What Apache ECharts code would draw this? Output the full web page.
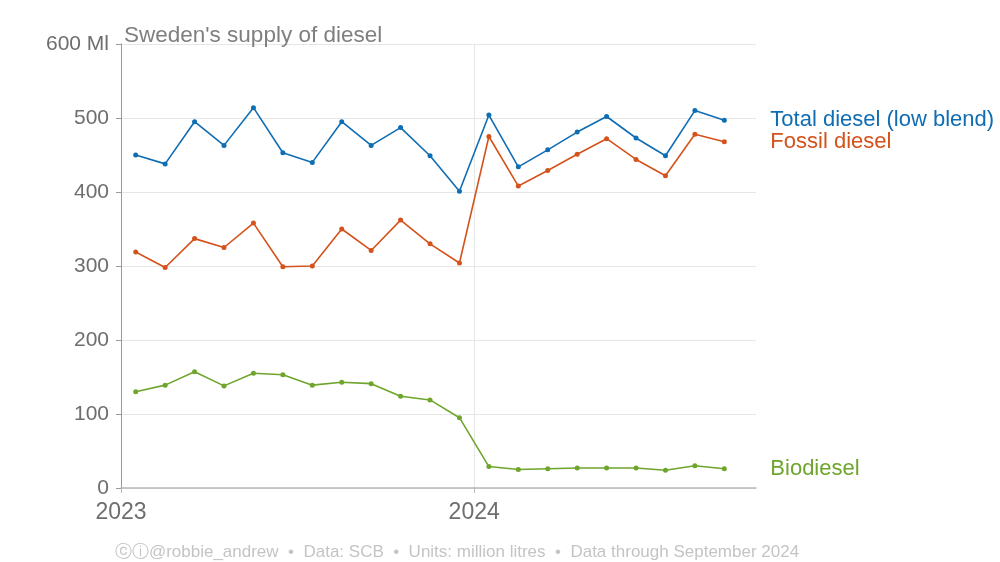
<!DOCTYPE html>
<html>
<head>
<meta charset="utf-8">
<style>
  html, body { margin: 0; padding: 0; background: #fff; }
  #chart { width: 1000px; height: 562px; }
</style>
<script src="https://cdn.jsdelivr.net/npm/echarts@6/dist/echarts.min.js"></script>
</head>
<body>
<div id="chart"></div>
<script>
// Months (first of each month), values in million litres
const months = [
  '2023-01','2023-02','2023-03','2023-04','2023-05','2023-06','2023-07','2023-08','2023-09','2023-10','2023-11','2023-12',
  '2024-01','2024-02','2024-03','2024-04','2024-05','2024-06','2024-07','2024-08','2024-09'
];
const totalDiesel = [450, 438, 495, 463, 514, 453, 440, 495, 463, 487, 449, 401,
                     504, 434, 457, 481, 502, 473, 449, 510, 497];
const fossilDiesel = [319, 298, 337, 325, 358, 299, 300, 350, 321, 362, 330, 304,
                      475, 408, 429, 451, 472, 444, 422, 478, 468];
const bioDiesel = [130, 139, 157, 138, 155, 153, 139, 143, 141, 124, 119, 95,
                   29, 25, 26, 27, 27, 27, 24, 30, 26];
const yTicks = [0, 100, 200, 300, 400, 500, 600];
const xYears = [2023, 2024];

const seriesNames = ['Total diesel (low blend)', 'Fossil diesel', 'Biodiesel'];
const seriesColors = ['#0f6db3', '#d4521c', '#6fa52c'];

// decimal-year positions at mid-month
function midMonth(m) {
  const [y, mo] = m.split('-').map(Number);
  return y + (mo - 0.5) / 12;
}
function pairs(vals) { return months.map((m, i) => [midMonth(m), vals[i]]); }

const FONT = '"Liberation Sans", Arial, Helvetica, sans-serif';

const chart = echarts.init(document.getElementById('chart'), null, { renderer: 'canvas' });

function mkSeries(name, vals, color) {
  return {
    name: name,
    type: 'line',
    data: pairs(vals),
    symbol: 'circle',
    symbolSize: 5,
    showSymbol: true,
    lineStyle: { width: 1.6, color: color },
    itemStyle: { color: color },
    emphasis: { disabled: true },
    endLabel: {
      show: true,
      formatter: name,
      color: color,
      fontSize: 22,
      fontFamily: FONT,
      distance: 46
    },
    animation: false
  };
}

chart.setOption({
  backgroundColor: '#ffffff',
  animation: false,
  title: [
    {
      text: "Sweden's supply of diesel",
      left: 119, top: 19,
      textStyle: { color: '#7f7f7f', fontSize: 22.5, fontWeight: 'normal', fontFamily: FONT }
    },
    {
      text: 'ⓒⓘ@robbie_andrew  •  Data: SCB  •  Units: million litres  •  Data through September 2024',
      left: 452, textAlign: 'center', top: 539,
      textStyle: { color: '#c4c4c4', fontSize: 17, fontWeight: 'normal', fontFamily: FONT }
    }
  ],
  grid: { left: 121, right: 244, top: 44, bottom: 74, containLabel: false },
  xAxis: {
    type: 'value',
    min: 2023,
    max: 2024.798,
    interval: 1,
    axisLine: { show: true, lineStyle: { color: '#b8b8b8', width: 1.5 } },
    axisTick: { show: true, length: 5, lineStyle: { color: '#b8b8b8' } },
    axisLabel: {
      show: true,
      fontSize: 23, color: '#6e6e6e', fontFamily: FONT, margin: 13,
      showMaxLabel: false,
      formatter: function (v) { return xYears.indexOf(Math.round(v)) >= 0 && Math.abs(v - Math.round(v)) < 1e-6 ? String(Math.round(v)) : ''; }
    },
    splitLine: { show: true, showMinLine: false, showMaxLine: false, lineStyle: { color: '#e6e6e6', width: 1 } }
  },
  yAxis: {
    type: 'value',
    min: yTicks[0],
    max: yTicks[yTicks.length - 1],
    interval: 100,
    axisLine: { show: true, lineStyle: { color: '#9a9a9a', width: 1 } },
    axisTick: { show: true, length: 5, lineStyle: { color: '#9a9a9a' } },
    axisLabel: {
      fontSize: 21, color: '#6e6e6e', fontFamily: FONT, margin: 12,
      formatter: function (v) { return v === 600 ? '600 Ml' : String(v); }
    },
    splitLine: { show: true, lineStyle: { color: '#e6e6e6', width: 1 } }
  },
  series: [
    mkSeries(seriesNames[0], totalDiesel, seriesColors[0]),
    mkSeries(seriesNames[1], fossilDiesel, seriesColors[1]),
    mkSeries(seriesNames[2], bioDiesel, seriesColors[2])
  ]
});
</script>
</body>
</html>
